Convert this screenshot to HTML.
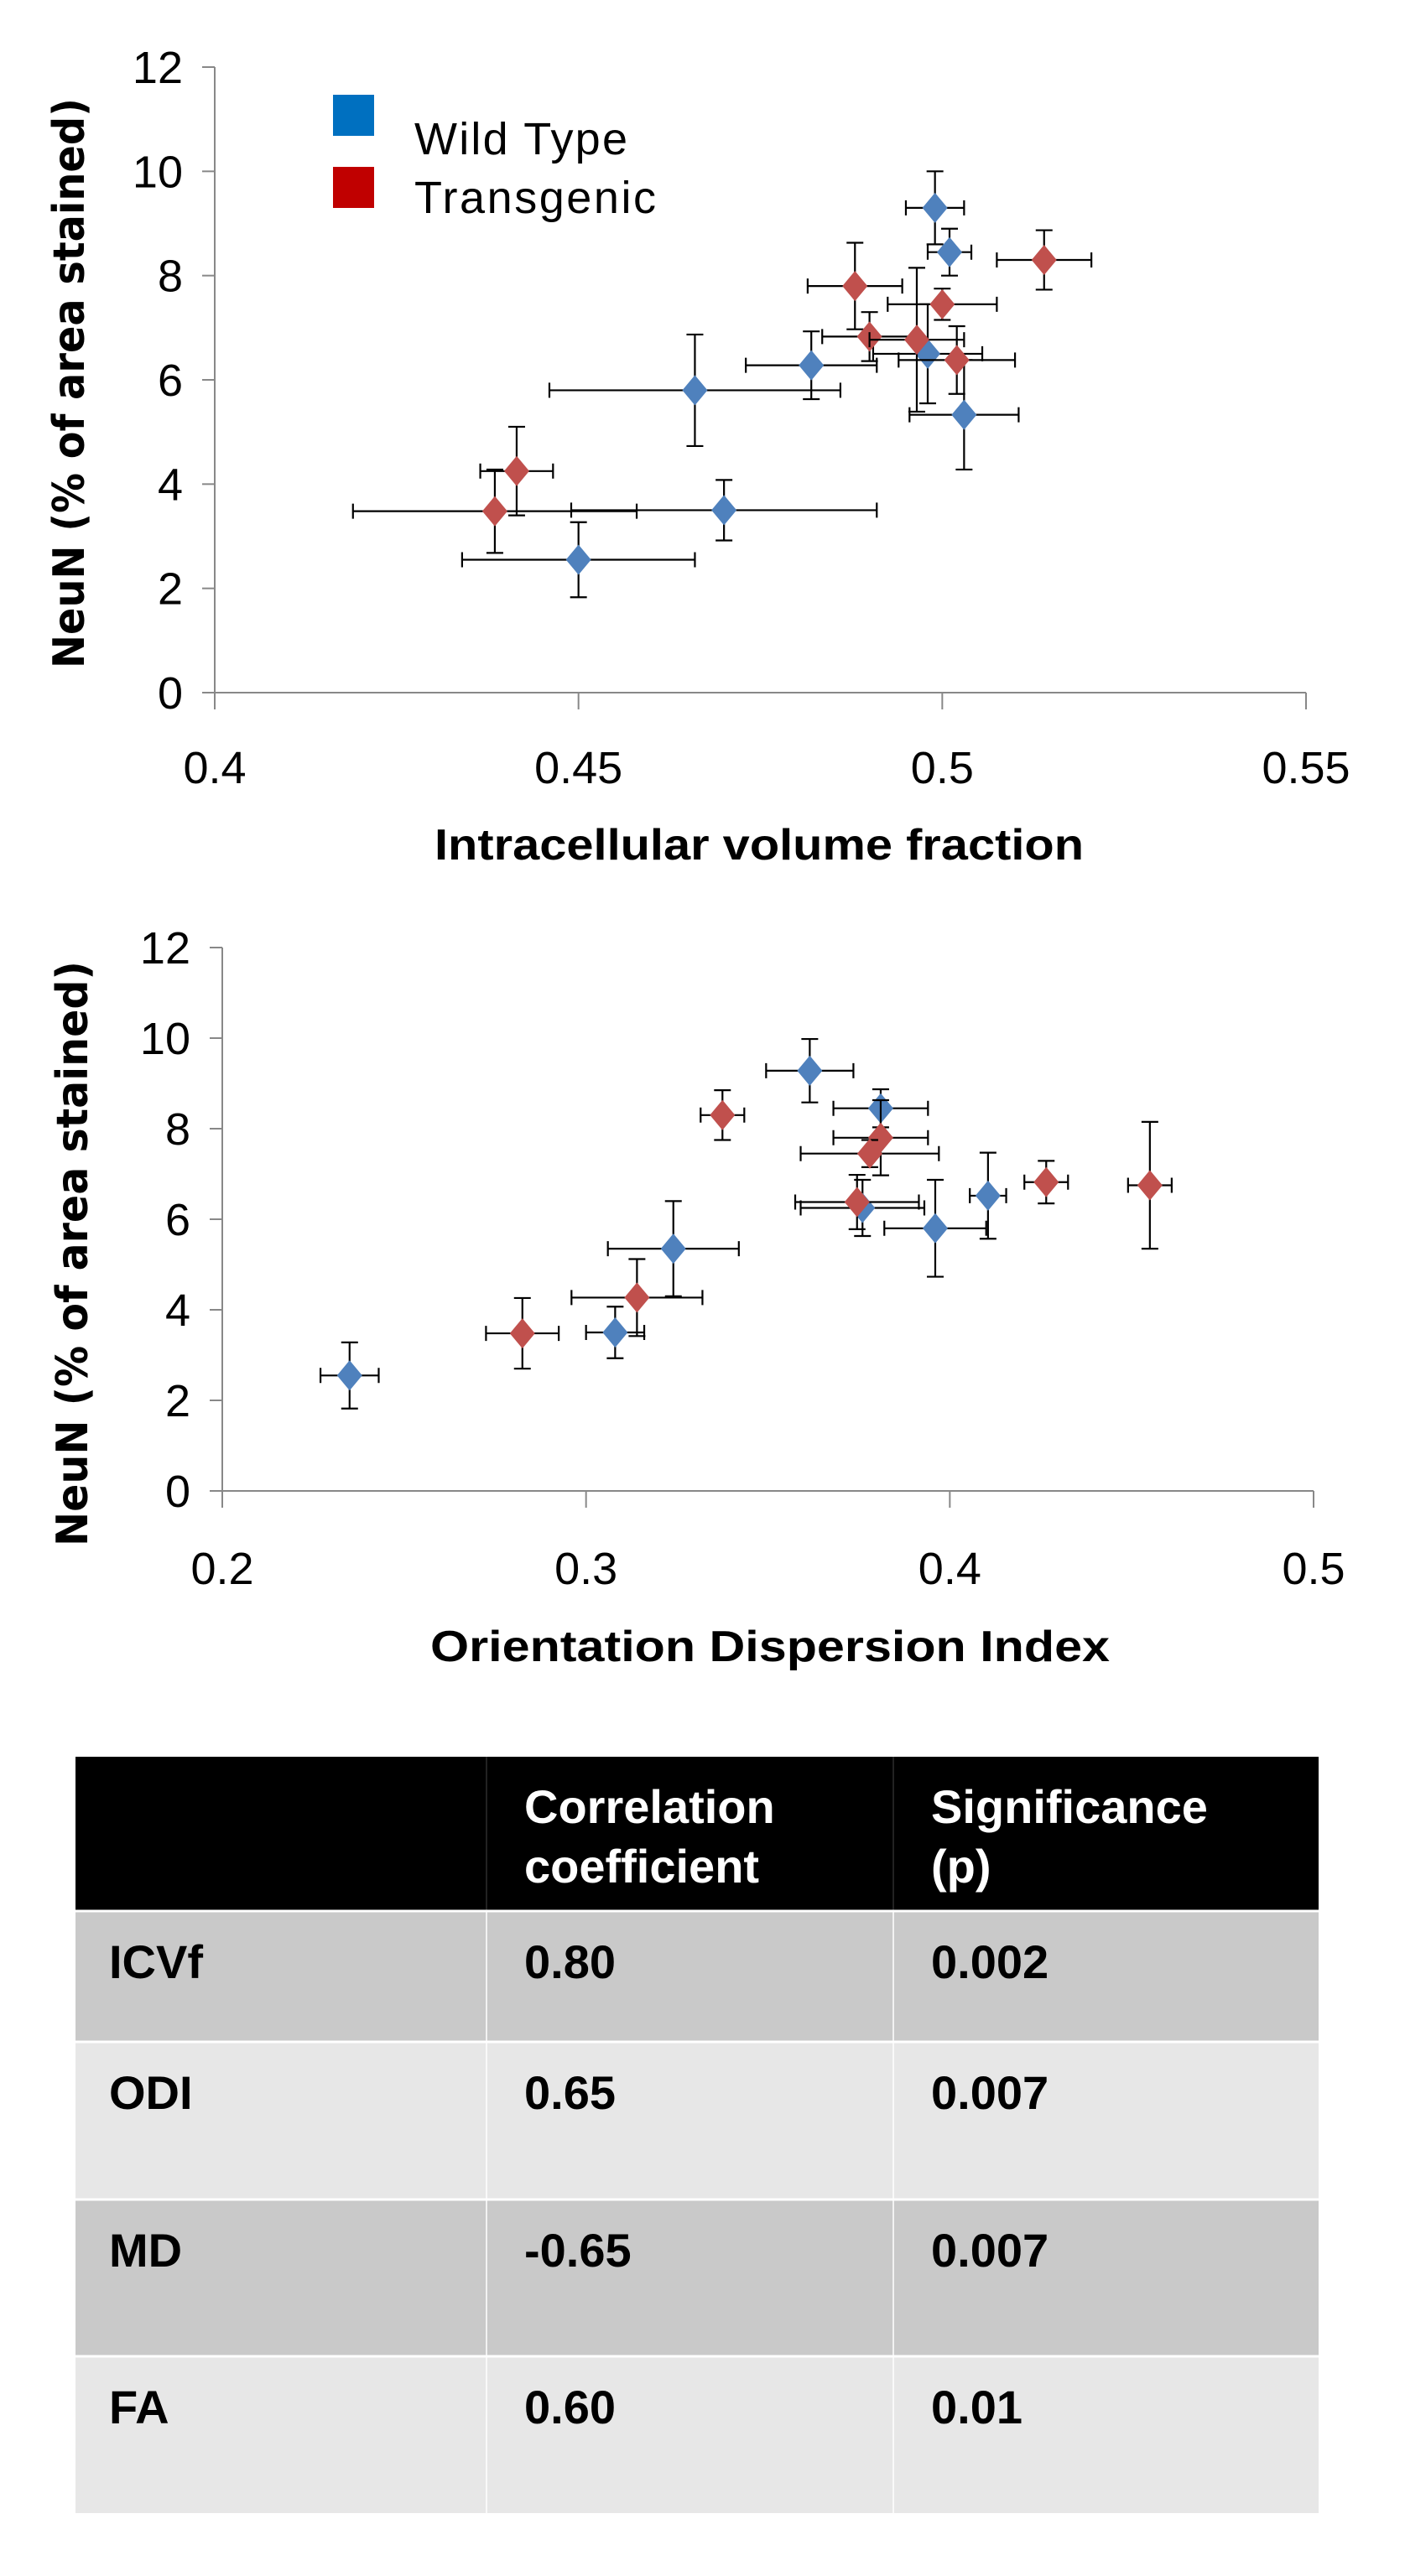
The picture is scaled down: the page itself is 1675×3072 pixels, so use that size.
<!DOCTYPE html>
<html><head><meta charset="utf-8"><style>
html,body{margin:0;padding:0;background:#fff;}
svg{display:block;}
</style></head><body>
<svg id="fig" width="1675" height="3072" viewBox="0 0 1675 3072" xmlns="http://www.w3.org/2000/svg" font-family="'Liberation Sans', sans-serif">
<g id="c1"></g>
<g id="c2"></g>
<g>
  <rect x="397" y="113" width="49" height="49" fill="#0070c0"/>
  <text x="494" y="184" font-size="54" textLength="254" fill="#000">Wild Type</text>
  <rect x="397" y="199" width="49" height="49" fill="#c00000"/>
  <text x="494" y="254" font-size="54" textLength="288" fill="#000">Transgenic</text>
</g>
<g id="tbl" font-weight="bold" font-size="56"></g>
</svg>
<script>
// Chart 1 data: ICVf
const icvfWtX = [0.499,0.501,0.482,0.466,0.498,0.503,0.470,0.450];
const icvfWtY = [9.3,8.45,6.28,5.8,6.5,5.33,3.5,2.55];
const icvfWtXErr = [0.004,0.003,0.009,0.020,0.0075,0.0075,0.021,0.016];
const icvfWtYErr = [0.7,0.45,0.65,1.07,0.95,1.05,0.58,0.72];
const icvfTgX = [0.514,0.488,0.500,0.490,0.4965,0.502,0.4415,0.4385];
const icvfTgY = [8.3,7.8,7.45,6.83,6.77,6.38,4.25,3.48];
const icvfTgXErr = [0.0065,0.0065,0.0075,0.0065,0.0065,0.008,0.005,0.0195];
const icvfTgYErr = [0.57,0.83,0.3,0.47,1.38,0.65,0.85,0.8];
const icvfXTicks = ["0.4","0.45","0.5","0.55"];
// Chart 2 data: ODI
const odiWtX = [0.3615,0.381,0.4105,0.396,0.376,0.324,0.308,0.235];
const odiWtY = [9.28,8.45,6.52,5.8,6.25,5.35,3.5,2.55];
const odiWtXErr = [0.012,0.013,0.005,0.014,0.017,0.018,0.008,0.008];
const odiWtYErr = [0.7,0.42,0.95,1.07,0.62,1.05,0.57,0.73];
const odiTgX = [0.3375,0.381,0.378,0.4265,0.455,0.3745,0.314,0.2825];
const odiTgY = [8.3,7.8,7.45,6.82,6.75,6.38,4.27,3.48];
const odiTgXErr = [0.006,0.013,0.019,0.006,0.006,0.017,0.018,0.01];
const odiTgYErr = [0.55,0.83,0.3,0.47,1.4,0.6,0.85,0.78];
const odiXTicks = ["0.2","0.3","0.4","0.5"];
const yTicks = ["0","2","4","6","8","10","12"];
// Table data
const tableHeader1 = ["", "Correlation", "Significance"];
const tableHeader2 = ["", "coefficient", "(p)"];
const tableMeasures = ["ICVf","ODI","MD","FA"];
const tableCorr = ["0.80","0.65","-0.65","0.60"];
const tableSig = ["0.002","0.007","0.007","0.01"];

const NS = "http://www.w3.org/2000/svg";
function mk(parent, tag, attrs, text){
  const e = document.createElementNS(NS, tag);
  for (const k in attrs) e.setAttribute(k, attrs[k]);
  if (text !== undefined) e.textContent = text;
  parent.appendChild(e);
  return e;
}

function chart(g, cfg){
  const sx = v => cfg.x0 + (v - cfg.xmin) / (cfg.xmax - cfg.xmin) * (cfg.x1 - cfg.x0);
  const sy = v => cfg.y0 - (v - 0) / 12 * (cfg.y0 - cfg.y1);
  const ya = mk(g, "line", {x1:cfg.x0, y1:cfg.y1, x2:cfg.x0, y2:cfg.y0, stroke:"#888", "stroke-width":2});
  
  
  const xa = mk(g, "line", {x1:cfg.x0-15, y1:cfg.y0, x2:cfg.x1, y2:cfg.y0, stroke:"#888", "stroke-width":2});
  
  
  yTicks.forEach(t => {
    const y = sy(+t);
    mk(g, "line", {x1:cfg.x0-15, y1:y, x2:cfg.x0, y2:y, stroke:"#888", "stroke-width":2});
    const lb = mk(g, "text", {x:cfg.x0-38, y:y+19, "font-size":54, "text-anchor":"end", fill:"#000"}, t);
    
    
  });
  cfg.xticks.forEach(t => {
    const x = sx(+t);
    mk(g, "line", {x1:x, y1:cfg.y0, x2:x, y2:cfg.y0+20, stroke:"#888", "stroke-width":2});
    const lb = mk(g, "text", {x:x, y:cfg.xlabY, "font-size":54, "text-anchor":"middle", fill:"#000"}, t);
    
    
  });
  const xt = mk(g, "text", {x:cfg.xtX, y:cfg.xtY, "font-size":52, "font-weight":"bold", "text-anchor":"middle", textLength:cfg.xtLen, lengthAdjust:"spacingAndGlyphs"}, cfg.xtitle);
  
  
  const yt = mk(g, "text", {x:0, y:0, "font-size":52, "font-weight":"bold", "text-anchor":"middle", textLength:cfg.ytLen, lengthAdjust:"spacingAndGlyphs", transform:`translate(${cfg.ytX},${cfg.ytY}) rotate(-90)`, "font-family":"'DejaVu Sans', sans-serif"}, "NeuN (% of area stained)");
  
  
  const series = [
    {xs:cfg.wtX, ys:cfg.wtY, xe:cfg.wtXE, ye:cfg.wtYE, col:"#4f81bd", name:"wild-type"},
    {xs:cfg.tgX, ys:cfg.tgY, xe:cfg.tgXE, ye:cfg.tgYE, col:"#c0504d", name:"transgenic"}
  ];
  series.forEach(s => {
    s.xs.forEach((xv, i) => {
      const cx = sx(xv), cy = sy(s.ys[i]);
      const xl = sx(xv - s.xe[i]), xr = sx(xv + s.xe[i]);
      const yt2 = sy(s.ys[i] + s.ye[i]), yb = sy(s.ys[i] - s.ye[i]);
      const eb = mk(g, "path", {d:`M${xl},${cy}H${xr}M${xl},${cy-9}V${cy+9}M${xr},${cy-9}V${cy+9}M${cx},${yt2}V${yb}M${cx-10},${yt2}H${cx+10}M${cx-10},${yb}H${cx+10}`, stroke:"#000", "stroke-width":2.2, fill:"none"});
      
      
      const p = mk(g, "path", {d:`M${cx},${cy-18}L${cx+15},${cy}L${cx},${cy+18}L${cx-15},${cy}Z`, fill:s.col});
      
      
    });
  });
}

chart(document.getElementById("c1"), {
  x0:256, x1:1557, y0:826, y1:80, xmin:0.4, xmax:0.55, xticks:icvfXTicks, xlabY:934,
  xtitle:"Intracellular volume fraction", xtX:905, xtY:1025, xtLen:774,
  ytX:100, ytY:457, ytLen:680,
  wtX:icvfWtX, wtY:icvfWtY, wtXE:icvfWtXErr, wtYE:icvfWtYErr,
  tgX:icvfTgX, tgY:icvfTgY, tgXE:icvfTgXErr, tgYE:icvfTgYErr
});
chart(document.getElementById("c2"), {
  x0:265, x1:1566, y0:1778, y1:1130, xmin:0.2, xmax:0.5, xticks:odiXTicks, xlabY:1889,
  xtitle:"Orientation Dispersion Index", xtX:918, xtY:1981, xtLen:810,
  ytX:104, ytY:1495, ytLen:698,
  wtX:odiWtX, wtY:odiWtY, wtXE:odiWtXErr, wtYE:odiWtYErr,
  tgX:odiTgX, tgY:odiTgY, tgXE:odiTgXErr, tgYE:odiTgYErr
});

// table
const tbl = document.getElementById("tbl");
const colX = [90, 580, 1065, 1572];
const hdr = mk(tbl, "rect", {x:90, y:2095, width:1482, height:184, fill:"#000"});


mk(tbl, "line", {x1:580, y1:2095, x2:580, y2:2279, stroke:"#444", "stroke-width":1});
mk(tbl, "line", {x1:1065, y1:2095, x2:1065, y2:2279, stroke:"#444", "stroke-width":1});
[1,2].forEach(c => {
  const t1 = mk(tbl, "text", {x:colX[c]+45, y:2174, fill:"#fff"}, tableHeader1[c]);
  
  
  const t2 = mk(tbl, "text", {x:colX[c]+45, y:2245, fill:"#fff"}, tableHeader2[c]);
  
  
});
const rowTops = [2279, 2435, 2623, 2810, 2997];
tableMeasures.forEach((m, i) => {
  const top = rowTops[i], h = rowTops[i+1] - top;
  const bg = mk(tbl, "rect", {x:90, y:top, width:1482, height:h, fill: i % 2 === 0 ? "#c9c9c9" : "#e7e7e7"});
  
  
  mk(tbl, "line", {x1:90, y1:top, x2:1572, y2:top, stroke:"#fff", "stroke-width":3});
  mk(tbl, "line", {x1:580, y1:top, x2:580, y2:top+h, stroke:"#fff", "stroke-width":1.5});
  mk(tbl, "line", {x1:1065, y1:top, x2:1065, y2:top+h, stroke:"#fff", "stroke-width":1.5});
  const by = top + 80;
  const a = mk(tbl, "text", {x:130, y:by, fill:"#000"}, m);
  
  
  const b = mk(tbl, "text", {x:625, y:by, fill:"#000"}, tableCorr[i]);
  
  
  const c = mk(tbl, "text", {x:1110, y:by, fill:"#000"}, tableSig[i]);
  
  
});
</script>
</body></html>
